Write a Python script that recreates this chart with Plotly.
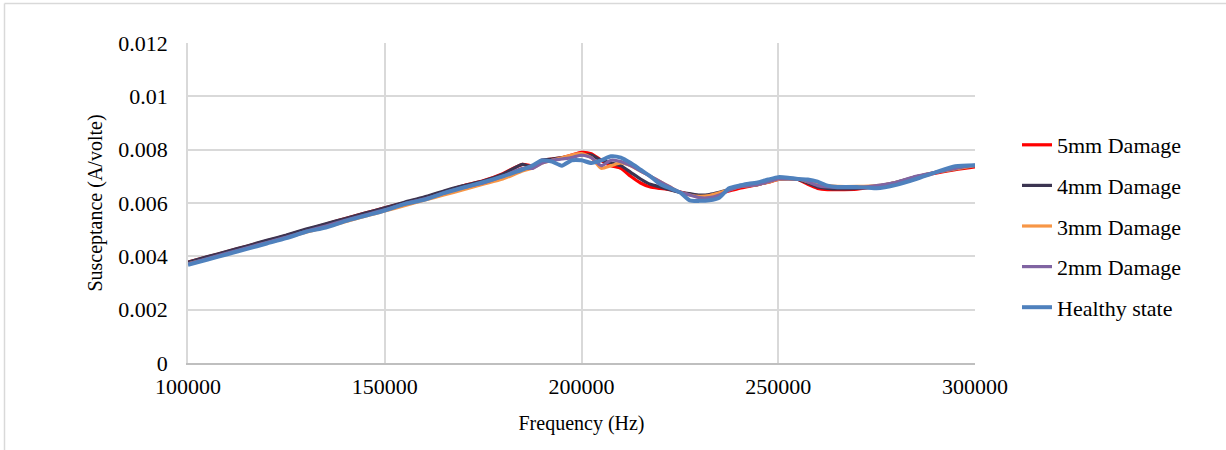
import plotly.graph_objects as go

freq = ([100000 + 5000 * i for i in range(18)]
        + [187500 + 2500 * i for i in range(31)]
        + [265000 + 5000 * i for i in range(8)])

dmg5 = [0.00378, 0.00398, 0.00418, 0.00438, 0.00458, 0.00478, 0.00500, 0.00520, 0.00542, 0.00562,
        0.00582, 0.00600, 0.00620, 0.00642, 0.00665, 0.00683, 0.00710, 0.00745,
        0.00740, 0.00760, 0.00765, 0.00770, 0.00780, 0.00790, 0.00785, 0.00760, 0.00740, 0.00730,
        0.00700, 0.00675, 0.00660, 0.00655, 0.00650, 0.00642, 0.00632, 0.00625, 0.00628, 0.00635,
        0.00645, 0.00655, 0.00662, 0.00670, 0.00678, 0.00688, 0.00692, 0.00688, 0.00670, 0.00655,
        0.00650,
        0.00650, 0.00652, 0.00662, 0.00675, 0.00695, 0.00712, 0.00725, 0.00735]

dmg4 = [0.00378, 0.00399, 0.00419, 0.00439, 0.00460, 0.00480, 0.00502, 0.00522, 0.00542, 0.00562,
        0.00582, 0.00603, 0.00622, 0.00645, 0.00665, 0.00682, 0.00708, 0.00745,
        0.00735, 0.00760, 0.00765, 0.00770, 0.00775, 0.00780, 0.00780, 0.00760, 0.00750, 0.00740,
        0.00715, 0.00690, 0.00670, 0.00660, 0.00650, 0.00640, 0.00635, 0.00630, 0.00632, 0.00640,
        0.00650, 0.00660, 0.00665, 0.00670, 0.00680, 0.00690, 0.00690, 0.00688, 0.00675, 0.00660,
        0.00655,
        0.00653, 0.00655, 0.00663, 0.00678, 0.00698, 0.00715, 0.00728, 0.00740]

dmg3 = [0.00372, 0.00390, 0.00410, 0.00430, 0.00450, 0.00470, 0.00490, 0.00510, 0.00530, 0.00550,
        0.00570, 0.00590, 0.00610, 0.00630, 0.00650, 0.00670, 0.00690, 0.00720,
        0.00730, 0.00750, 0.00760, 0.00770, 0.00780, 0.00785, 0.00770, 0.00730, 0.00740, 0.00750,
        0.00740, 0.00720, 0.00700, 0.00680, 0.00660, 0.00640, 0.00630, 0.00625, 0.00628, 0.00638,
        0.00650, 0.00660, 0.00665, 0.00670, 0.00678, 0.00688, 0.00690, 0.00690, 0.00680, 0.00670,
        0.00665,
        0.00662, 0.00662, 0.00665, 0.00678, 0.00698, 0.00715, 0.00728, 0.00740]

dmg2 = [0.00372, 0.00392, 0.00412, 0.00432, 0.00452, 0.00472, 0.00494, 0.00514, 0.00535, 0.00555,
        0.00575, 0.00597, 0.00615, 0.00637, 0.00658, 0.00675, 0.00700, 0.00730,
        0.00730, 0.00750, 0.00760, 0.00765, 0.00770, 0.00780, 0.00770, 0.00740, 0.00760, 0.00755,
        0.00740, 0.00720, 0.00700, 0.00680, 0.00660, 0.00640, 0.00630, 0.00620, 0.00620, 0.00630,
        0.00648, 0.00660, 0.00665, 0.00670, 0.00680, 0.00690, 0.00690, 0.00690, 0.00680, 0.00665,
        0.00660,
        0.00658, 0.00658, 0.00665, 0.00678, 0.00700, 0.00715, 0.00730, 0.00742]

healthy = [0.00368, 0.00388, 0.00408, 0.00428, 0.00448, 0.00468, 0.00492, 0.00508, 0.00532, 0.00552,
           0.00572, 0.00596, 0.00612, 0.00637, 0.00658, 0.00678, 0.00700, 0.00725,
           0.00740, 0.00760, 0.00755, 0.00740, 0.00760, 0.00760, 0.00750, 0.00760, 0.00775, 0.00770,
           0.00750, 0.00725, 0.00700, 0.00670, 0.00655, 0.00640, 0.00610, 0.00608, 0.00610, 0.00620,
           0.00655, 0.00665, 0.00672, 0.00678, 0.00688, 0.00697, 0.00695, 0.00690, 0.00688, 0.00680,
           0.00665,
           0.00660, 0.00660, 0.00655, 0.00668, 0.00690, 0.00715, 0.00738, 0.00742]

x_ticks = [100000, 150000, 200000, 250000, 300000]
x_tick_labels = ["100000", "150000", "200000", "250000", "300000"]
y_ticks = [0, 0.002, 0.004, 0.006, 0.008, 0.01, 0.012]
y_tick_labels = ["0", "0.002", "0.004", "0.006", "0.008", "0.01", "0.012"]

names = ["5mm Damage", "4mm Damage", "3mm Damage", "2mm Damage", "Healthy state"]
colors = ["#FF0000", "#3B3451", "#F79646", "#8064A2", "#4F81BD"]
widths = [3.2, 3.2, 3.2, 3.2, 4]
series = [dmg5, dmg4, dmg3, dmg2, healthy]

FONT = "Liberation Serif, Times New Roman, serif"

fig = go.Figure()
for i, (nm, col, w, ys) in enumerate(zip(names, colors, widths, series)):
    fig.add_trace(go.Scatter(
        x=freq, y=ys, name=nm, mode="lines",
        line=dict(color=col, width=w, shape="spline", smoothing=0.6),
        legendgroup=f"g{i}",
    ))

W, H = 1226, 450
L, R, T, B = 188, 251, 43, 87
pw, ph = W - L - R, H - T - B

fig.update_layout(
    width=W, height=H,
    margin=dict(l=L, r=R, t=T, b=B, pad=0),
    paper_bgcolor="white", plot_bgcolor="white",
    font=dict(family=FONT, color="#000000"),
    showlegend=True,
    legend=dict(
        x=(1017 - L) / pw, xanchor="left",
        y=(363 - 124) / ph, yanchor="top",
        font=dict(family=FONT, size=22, color="#000000"),
        tracegroupgap=9,
        bgcolor="rgba(0,0,0,0)",
    ),
    xaxis=dict(
        range=[100000, 300000],
        tickvals=x_ticks, ticktext=x_tick_labels,
        showgrid=True, gridcolor="#D9D9D9", gridwidth=1.5,
        showline=True, linecolor="#BFBFBF", linewidth=1.5,
        zeroline=False, ticks="", ticklen=0, ticklabelstandoff=3,
        tickfont=dict(family=FONT, size=22, color="#000000"),
        title=dict(text="Frequency (Hz)", font=dict(family=FONT, size=20, color="#000000"), standoff=18),
    ),
    yaxis=dict(
        range=[0, 0.012],
        tickvals=y_ticks, ticktext=y_tick_labels,
        showgrid=True, gridcolor="#D9D9D9", gridwidth=1.5,
        showline=True, linecolor="#D9D9D9", linewidth=1.5,
        zeroline=False, ticks="", ticklen=0, ticklabelstandoff=14,
        tickfont=dict(family=FONT, size=22, color="#000000"),
        title=dict(text="Susceptance (A/volte)", font=dict(family=FONT, size=20, color="#000000"), standoff=10),
    ),
    shapes=[
        dict(type="line", xref="paper", yref="paper",
             x0=(4.5 - L) / pw, x1=(W + 5 - L) / pw,
             y0=(H - 3.5 - B) / ph, y1=(H - 3.5 - B) / ph,
             line=dict(color="#D9D9D9", width=1.5)),
        dict(type="line", xref="paper", yref="paper",
             x0=(4.5 - L) / pw, x1=(4.5 - L) / pw,
             y0=(H - 3.5 - B) / ph, y1=(-10 - B) / ph,
             line=dict(color="#D9D9D9", width=1.5)),
    ],
)

fig.write_html("out.html", config={"displayModeBar": False},
               post_script="document.body.style.margin='0';document.body.style.overflow='hidden';")
